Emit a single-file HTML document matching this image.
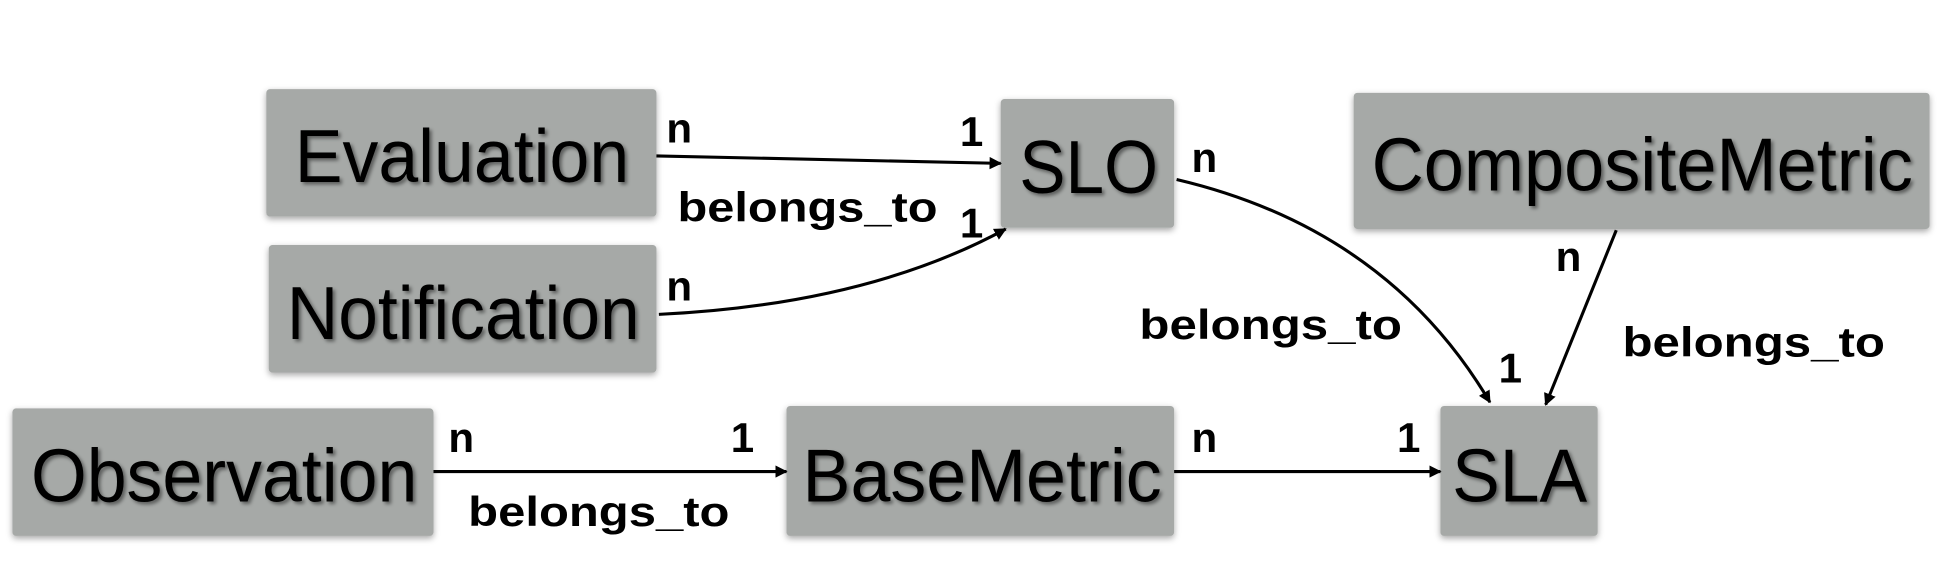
<!DOCTYPE html>
<html><head><meta charset="utf-8"><style>
html,body{margin:0;padding:0;background:#fff;}
svg{display:block;}
.box{fill:#a6a9a7;}
.bt{font-family:"Liberation Sans",sans-serif;font-size:61px;fill:#000;text-anchor:middle;filter:url(#ts);}
.lb{font-family:"Liberation Sans",sans-serif;font-size:34px;font-weight:bold;fill:#000;}
.e{stroke:#000;stroke-width:2.5;fill:none;marker-end:url(#ah);}
</style></head><body>
<svg width="1942" height="578" viewBox="0 0 1568 467" preserveAspectRatio="none">
<defs>
<marker id="ah" markerWidth="10" markerHeight="10" refX="9" refY="5" orient="auto" markerUnits="userSpaceOnUse"><path d="M0,0 L10,5 L0,10 z" fill="#000"/></marker>
<filter id="bs" x="-5%" y="-10%" width="110%" height="125%"><feDropShadow dx="0" dy="2" stdDeviation="2.5" flood-color="#000" flood-opacity="0.35"/></filter>
<filter id="ts"><feDropShadow dx="2" dy="2" stdDeviation="1.5" flood-color="#000" flood-opacity="0.45"/></filter>
</defs>
<g><rect class="box" x="215" y="72" width="315" height="103" rx="3" filter="url(#bs)"/><text class="bt" x="373" y="147" textLength="270" lengthAdjust="spacingAndGlyphs">Evaluation</text></g>
<g><rect class="box" x="217" y="198" width="313" height="103" rx="3" filter="url(#bs)"/><text class="bt" x="374" y="274" textLength="285" lengthAdjust="spacingAndGlyphs">Notification</text></g>
<g><rect class="box" x="808" y="80" width="140" height="104" rx="3" filter="url(#bs)"/><text class="bt" x="879" y="156" textLength="112" lengthAdjust="spacingAndGlyphs">SLO</text></g>
<g><rect class="box" x="1093" y="75" width="465" height="110" rx="3" filter="url(#bs)"/><text class="bt" x="1326" y="154" textLength="437" lengthAdjust="spacingAndGlyphs">CompositeMetric</text></g>
<g><rect class="box" x="10" y="330" width="340" height="103" rx="3" filter="url(#bs)"/><text class="bt" x="181" y="405" textLength="312" lengthAdjust="spacingAndGlyphs">Observation</text></g>
<g><rect class="box" x="635" y="328" width="313" height="105" rx="3" filter="url(#bs)"/><text class="bt" x="793" y="405" textLength="290" lengthAdjust="spacingAndGlyphs">BaseMetric</text></g>
<g><rect class="box" x="1163" y="328" width="127" height="105" rx="3" filter="url(#bs)"/><text class="bt" x="1227" y="405" textLength="109" lengthAdjust="spacingAndGlyphs">SLA</text></g>

<path class="e" d="M530,126 L808,132"/>
<path class="e" d="M532,254 Q700,246 812,185"/>
<path class="e" d="M950,145 Q1120,185 1203,325"/>
<path class="e" d="M1305,186 L1248,327"/>
<path class="e" d="M350,381 L635,381"/>
<path class="e" d="M948,381 L1163,381"/>

<text class="lb" x="538" y="115">n</text>
<text class="lb" x="775" y="118">1</text>
<text class="lb" x="547" y="179" textLength="210" lengthAdjust="spacingAndGlyphs">belongs_to</text>
<text class="lb" x="538" y="243">n</text>
<text class="lb" x="775" y="192">1</text>
<text class="lb" x="962" y="139">n</text>
<text class="lb" x="920" y="274" textLength="212" lengthAdjust="spacingAndGlyphs">belongs_to</text>
<text class="lb" x="1210" y="309">1</text>
<text class="lb" x="1256" y="219">n</text>
<text class="lb" x="1310" y="288" textLength="212" lengthAdjust="spacingAndGlyphs">belongs_to</text>
<text class="lb" x="362" y="365">n</text>
<text class="lb" x="590" y="365">1</text>
<text class="lb" x="378" y="425" textLength="211" lengthAdjust="spacingAndGlyphs">belongs_to</text>
<text class="lb" x="962" y="365">n</text>
<text class="lb" x="1128" y="365">1</text>
</svg>
</body></html>
